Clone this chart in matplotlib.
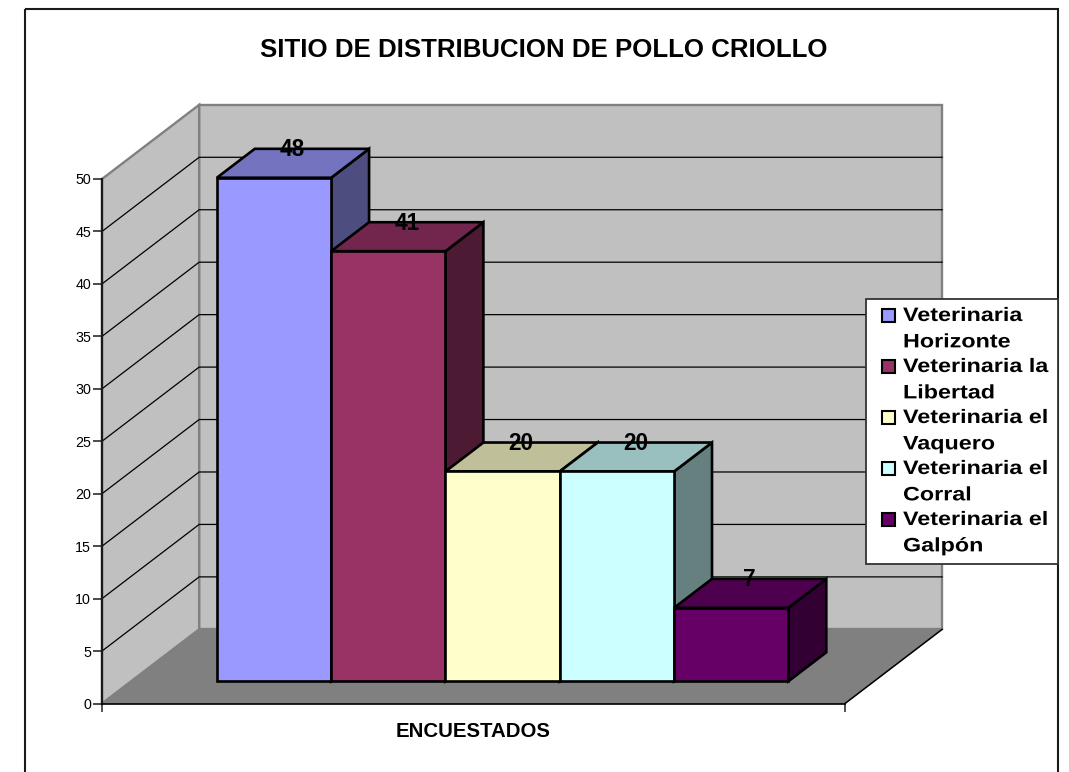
import matplotlib
matplotlib.use("Agg")
import matplotlib.pyplot as plt
from matplotlib.patches import Polygon, Rectangle
from matplotlib.lines import Line2D
from matplotlib.patheffects import AbstractPathEffect
from matplotlib.transforms import Affine2D

# ---- data ----
title = "SITIO DE DISTRIBUCION DE POLLO CRIOLLO"
category = "ENCUESTADOS"
series = ["Veterinaria\nHorizonte", "Veterinaria la\nLibertad", "Veterinaria el\nVaquero",
          "Veterinaria el\nCorral", "Veterinaria el\nGalpón"]
values = [48, 41, 20, 20, 7]
bar_colors = ["#9999FF", "#993366", "#FFFFCC", "#CCFFFF", "#660066"]
y_ticks = [0, 5, 10, 15, 20, 25, 30, 35, 40, 45, 50]

plt.rcParams["font.family"] = ["Liberation Sans", "DejaVu Sans"]
W, H = 1069, 772
fig = plt.figure(figsize=(W / 100, H / 100), dpi=100, facecolor="white")
PX = Affine2D().scale(1, -1).translate(0, H)  # page furniture in pixels


class StretchX(AbstractPathEffect):
    """Widen text horizontally about x0 (the reference has loose letter spacing)."""
    def __init__(self, x0, factor):
        super().__init__()
        self.a = Affine2D().translate(-x0, 0).scale(factor, 1).translate(x0, 0)

    def draw_path(self, renderer, gc, tpath, affine, rgbFace=None):
        renderer.draw_path(gc, tpath, affine + self.a, rgbFace)


# outer chart border (bottom edge runs off the page)
fig.add_artist(Rectangle((25, 9), 1033, 790, transform=PX, fill=False, ec="#1a1a1a", lw=1.5))
fig.text(544, 50, title, transform=PX, ha="center", va="center", fontsize=18.6, fontweight="bold", color="black")

# front plane of the 3-D box: x in category units, y in value units
ax = fig.add_axes([102 / W, (H - 703.5) / H, 743 / W, 524.5 / H])
ax.set_xlim(-0.75, 5.75)
ax.set_ylim(0, 50)
ax.patch.set_visible(False)
for s in ("top", "right"):
    ax.spines[s].set_visible(False)
ax.spines["left"].set_linewidth(1.6)
ax.spines["left"].set_color("#1a1a1a")
ax.spines["bottom"].set_linewidth(1.2)
ax.spines["bottom"].set_color("black")
ax.spines["left"].set_zorder(6)
ax.spines["bottom"].set_zorder(6)

ax.set_yticks(y_ticks)
ax.tick_params(axis="y", length=6.5, width=1.1, pad=1.5, labelsize=10.3, color="#1a1a1a")
ax.set_xticks([-0.75, 5.75], ["", ""])
ax.tick_params(axis="x", which="major", length=5.8, width=1.3, color="#444444")
ax.set_xticks([2.5], [category], minor=True)
ax.tick_params(axis="x", which="minor", length=0, pad=13.5, labelsize=14.7)
for t in ax.get_xticklabels(minor=True):
    t.set_fontweight("bold")

# oblique depth: full floor depth expressed in data units
DX, DY = 0.85, 7.07
D0, D1 = 0.30, 0.69  # bar depth span, fraction of the floor


def P(x, v, d=0.0):
    return (x + d * DX, v + d * DY)


def poly(pts, fc, ec, lw, z):
    ax.add_patch(Polygon(pts, closed=True, fc=fc, ec=ec, lw=lw, zorder=z, clip_on=False, joinstyle="miter"))


def shade(c, f):
    r, g, b = matplotlib.colors.to_rgb(c)
    return (r * f, g * f, b * f)


XL, XR = ax.get_xlim()
YMAX = y_ticks[-1]
GRAY = "#808080"
WALL = "#C0C0C0"
# walls and floor
poly([P(XL, 0, 1), P(XR, 0, 1), P(XR, YMAX, 1), P(XL, YMAX, 1)], WALL, GRAY, 1.7, 1)
poly([P(XL, 0), P(XL, 0, 1), P(XL, YMAX, 1), P(XL, YMAX)], WALL, GRAY, 1.7, 1)
poly([P(XL, 0), P(XR, 0), P(XR, 0, 1), P(XL, 0, 1)], GRAY, GRAY, 0.8, 2)
ax.add_line(Line2D(*zip(P(XR, 0), P(XR, 0, 1)), color="black", lw=1.1, zorder=3, clip_on=False))
# gridlines on both walls
for v in y_ticks[1:-1]:
    ax.add_line(Line2D(*zip(P(XL, v), P(XL, v, 1), P(XR, v, 1)), color="black", lw=0.9, zorder=3, clip_on=False))

# bars
for i, (v, c) in enumerate(zip(values, bar_colors)):
    z = 4 + i * 0.1
    poly([P(i + 1, 0, D0), P(i + 1, 0, D1), P(i + 1, v, D1), P(i + 1, v, D0)], shade(c, 0.5), "black", 1.9, z)
    poly([P(i, v, D0), P(i + 1, v, D0), P(i + 1, v, D1), P(i, v, D1)], shade(c, 0.75), "black", 1.9, z)
    poly([P(i, 0, D0), P(i + 1, 0, D0), P(i + 1, v, D0), P(i, v, D0)], c, "black", 1.9, z)
for i, v in enumerate(values):
    lx = P(i + 0.495, v, (D0 + D1) / 2)[0]
    ly = P(i, v, D1)[1] - 0.1
    ax.text(lx, ly, str(v), ha="center", va="center", fontsize=16.3, fontweight="bold", color="black", zorder=7)

# legend box
fig.add_artist(Rectangle((866, 299), 192, 265, transform=PX, fc="white", ec="#333333", lw=1.3, zorder=8))
first_lines = [315, 366, 417, 468, 519]
for name, c, y in zip(series, bar_colors, first_lines):
    fig.add_artist(Rectangle((882, y - 6), 13, 13, transform=PX, fc=c, ec="black", lw=1.5, zorder=9))
    t = fig.text(903, y - 7, name, transform=PX, ha="left", va="top", fontsize=14, fontweight="bold",
                 color="black", linespacing=1.72, zorder=9)
    t.set_path_effects([StretchX(903, 1.2)])

fig.savefig("out.png", dpi=100)
